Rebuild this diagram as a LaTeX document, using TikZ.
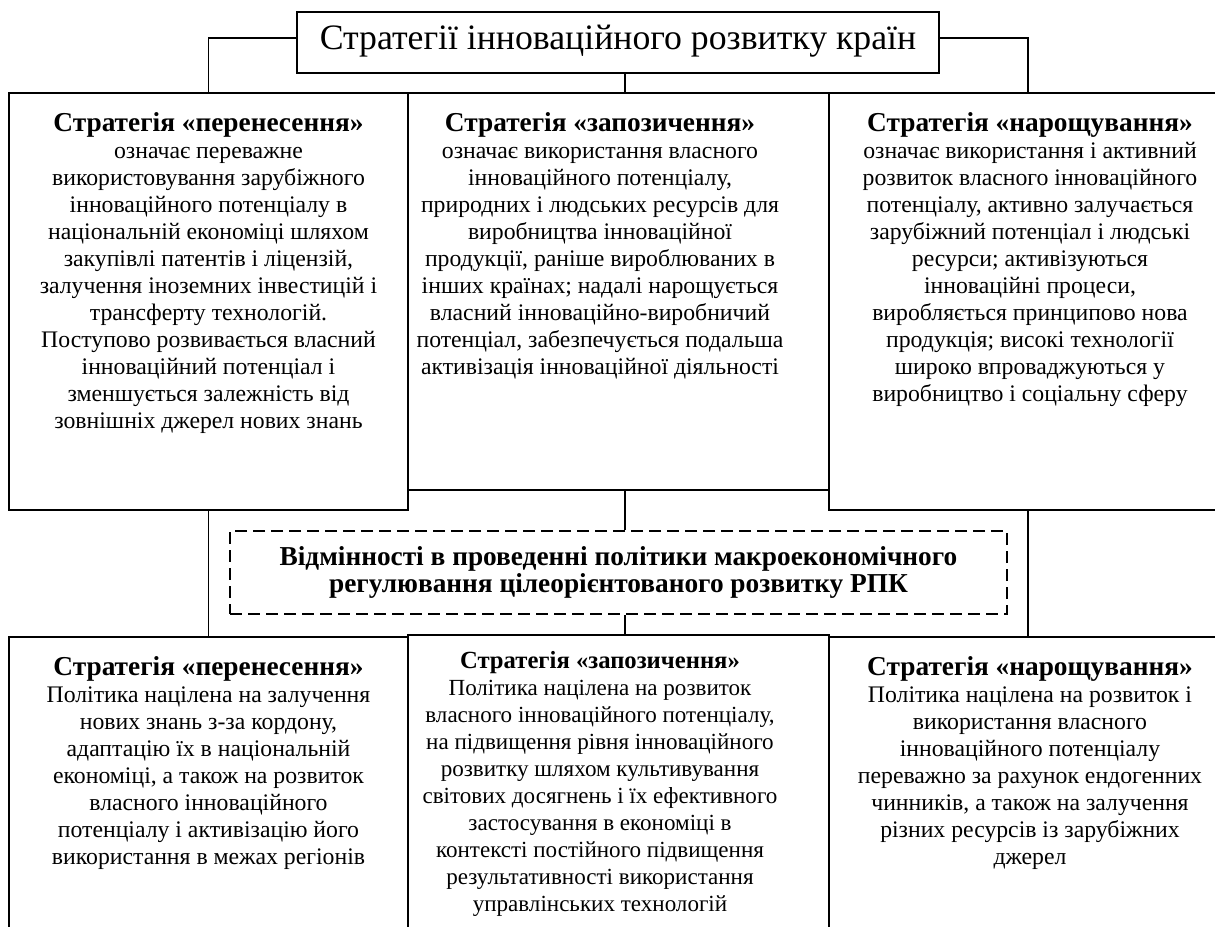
\documentclass[tikz,border=0pt]{standalone}
\usepackage{fontspec}
\setmainfont{Liberation Serif}
\usetikzlibrary{fit}
\newcommand{\hd}[1]{{\fontsize{20.5}{20.25}\selectfont\bfseries #1}}
\newcommand{\hds}[1]{{\fontsize{18.5}{20.25}\selectfont\bfseries #1}}
\begin{document}
\begin{tikzpicture}[x=0.75pt,y=-0.75pt,
  box/.style={draw,line width=1.2pt,rectangle,inner sep=0pt},
  dbox/.style={draw,line width=1.5pt,dash pattern=on 9pt off 4.5pt,rectangle,inner sep=0pt},
  txt/.style={anchor=north,inner sep=0pt,align=center,font=\fontsize{17.8}{20.25}\selectfont},
  txts/.style={anchor=north,inner sep=0pt,align=center,font=\fontsize{17.3}{20.25}\selectfont},
  conn/.style={line width=1.2pt}]
\useasboundingbox (0,0) rectangle (1215,926);
\clip (0,0) rectangle (1215,926);

% title
\node[box,fit={(297,12) (939,73)}] (title) {};
\node[inner sep=0pt,font=\fontsize{26.8}{30}\selectfont] (titlet) at ([yshift=1pt]title.center) {Стратегії інноваційного розвитку країн};

% top row
\node[box,fit={(9,93) (408,510)}] (tl) {};
\node[box,fit={(408,93) (829,490)}] (tm) {};
\node[box,fit={(829,93) (1227,510)}] (tr) {};

\node[txt] (tlt) at (208.5,112) {\hd{Стратегія «перенесення»}\\означає переважне\\використовування зарубіжного\\інноваційного потенціалу в\\національній економіці шляхом\\закупівлі патентів і ліцензій,\\залучення іноземних інвестицій і\\трансферту технологій.\\Поступово розвивається власний\\інноваційний потенціал і\\зменшується залежність від\\зовнішніх джерел нових знань};
\node[txt] (tmt) at (600,112) {\hd{Стратегія «запозичення»}\\означає використання власного\\інноваційного потенціалу,\\природних і людських ресурсів для\\виробництва інноваційної\\продукції, раніше вироблюваних в\\інших країнах; надалі нарощується\\власний інноваційно-виробничий\\потенціал, забезпечується подальша\\активізація інноваційної діяльності};
\node[txt] (trt) at (1030,112) {\hd{Стратегія «нарощування»}\\означає використання і активний\\розвиток власного інноваційного\\потенціалу, активно залучається\\зарубіжний потенціал і людські\\ресурси; активізуються\\інноваційні процеси,\\виробляється принципово нова\\продукція; високі технології\\широко впроваджуються у\\виробництво і соціальну сферу};

% dashed box
\node[dbox,fit={(230,531) (1007,614)}] (db) {};
\node[inner sep=0pt,align=center,font=\fontsize{20.5}{20}\selectfont\bfseries] (dbt) at (db.center) {Відмінності в проведенні політики макроекономічного\\регулювання цілеорієнтованого розвитку РПК};

% bottom row
\node[box,fit={(9,637) (408,970)}] (bl) {};
\node[box,fit={(408,635) (829,970)}] (bm) {};
\node[box,fit={(829,637) (1227,970)}] (br) {};

\node[txt] (blt) at (208.5,656) {\hd{Стратегія «перенесення»}\\Політика націлена на залучення\\нових знань з-за кордону,\\адаптацію їх в національній\\економіці, а також на розвиток\\власного інноваційного\\потенціалу і активізацію його\\використання в межах регіонів};
\node[txts] (bmt) at (600,651) {\hds{Стратегія «запозичення»}\\Політика націлена на розвиток\\власного інноваційного потенціалу,\\на підвищення рівня інноваційного\\розвитку шляхом культивування\\світових досягнень і їх ефективного\\застосування в економіці в\\контексті постійного підвищення\\результативності використання\\управлінських технологій};
\node[txt] (brt) at (1030,656) {\hd{Стратегія «нарощування»}\\Політика націлена на розвиток і\\використання власного\\інноваційного потенціалу\\переважно за рахунок ендогенних\\чинників, а також на залучення\\різних ресурсів із зарубіжних\\джерел};

% connectors
\coordinate (mx) at (625,0);
\draw[conn] ([yshift=3.4pt]title.west) -| (tl.north);
\draw[conn] ([yshift=3.4pt]title.east) -| (tr.north);
\draw[conn] (title.south -| mx) -- (tm.north -| mx);
\draw[conn] (tm.south -| mx) -- (db.north -| mx);
\draw[conn] (db.south -| mx) -- (bm.north -| mx);
\draw[conn] (tl.south) -- (bl.north);
\draw[conn] (tr.south) -- (br.north);
\end{tikzpicture}
\end{document}
